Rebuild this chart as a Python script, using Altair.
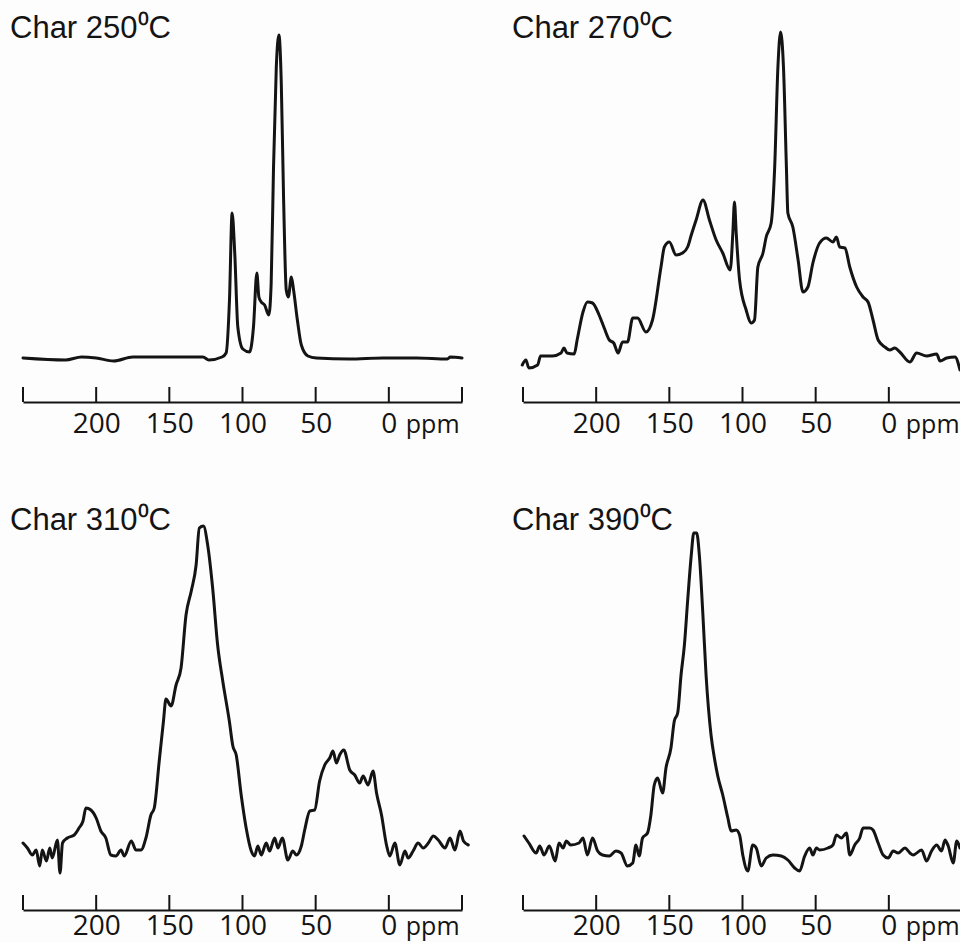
import altair as alt
import pandas as pd

# ---------------- data (ppm, intensity in arbitrary units) ----------------
c250_ppm = [250, 221, 210, 200, 188, 175, 152, 127, 123, 114, 111.2, 108.9, 107.1, 105.3, 103.2,
            99.8, 95.2, 92.5, 90.2, 88.8, 87.2, 84.9, 82, 80.4, 78.8, 76.9, 75.1, 73.5, 71.9,
            70.1, 68.7, 66.6, 65.1, 62.5, 59.8, 55.3, 49.5, 27, 4, -19, -40, -42, -50]
c250_int = [0, -2, 1, 0, -3, 1, 1, 1, -2, 1, 5, 58, 145, 105, 31,
            9, 6, 31, 85, 61, 56, 53, 43, 75, 191, 291, 323, 275, 158,
            68, 61, 81, 68, 38, 13, 2, 0, -1, 0, 0, -1, 1, 0]

c270_ppm = [250.5, 248, 246, 240, 238, 230, 224, 222, 220, 215, 213, 209, 206, 202.5, 198,
            194.5, 191, 188, 185, 182, 178.6, 175, 171.7, 166, 161.5, 155.7, 153.4, 150, 145.4,
            141, 137.5, 135, 131.7, 127, 122.6, 118, 113.5, 108.4, 106.6, 105.5, 104.3, 102,
            97.5, 94, 91.8, 89.5, 86, 83.8, 80.4, 78, 75.8, 74, 72, 70, 69, 65.6, 62, 58.7,
            55.3, 51.9, 47.3, 42.7, 38.2, 35.8, 33.6, 30, 26.7, 22, 17.6, 14.2, 10.8, 7.3,
            2.7, -0.7, -4.1, -7.5, -14.4, -19, -25.8, -32.7, -35, -39.5, -45.2, -48.6]
c270_int = [-7, -2, -10, -7, 2, 2, 5, 10, 5, 4, 18, 46, 56, 55, 43,
            30, 18, 15, 5, 16, 16, 40, 40, 26, 38, 91, 111, 116, 103,
            105, 111, 123, 138, 158, 138, 118, 105, 88, 125, 156, 125, 78,
            48, 35, 38, 91, 105, 121, 135, 191, 291, 326, 291, 191, 145, 131, 98, 66,
            71, 95, 115, 120, 116, 121, 111, 110, 91, 71, 61, 56, 38, 18,
            11, 8, 10, 6, -4, 5, 2, 4, -3, 0, 1, -12]

c310_ppm = [250, 247, 243.6, 241, 238.6, 236.8, 234, 231.7, 230, 226.5, 224.7, 223, 219.7, 215,
            211.7, 209, 207, 203.6, 200, 196.8, 193.4, 190, 186.5, 183, 180.8, 176, 172.8, 169.4,
            166, 162.6, 160.3, 156.9, 154, 152.3, 148.8, 145.4, 142, 138.6, 135, 131.7, 129.5,
            126.7, 123.8, 120.4, 117, 113.5, 109, 106.6, 104.3, 100.9, 97.5, 94, 91.8, 89.5,
            87.2, 83.8, 81.5, 78, 75.8, 72.8, 69, 65.6, 63.2, 59.8, 57.5, 54, 50.7, 47.3, 43.8,
            40.4, 38.2, 35.8, 33.6, 30.8, 26.7, 23.3, 19.9, 17.6, 14.2, 10.8, 8.4, 5, 1.6, -0.7,
            -4.1, -7.5, -11, -13.2, -16.6, -20, -23.5, -27, -30.4, -33.8, -38.4, -41.8, -45.2,
            -48.6, -51, -54.3]
c310_int = [8, 3, -4, 1, -15, 1, -10, 3, -7, 11, -22, 8, 13, 16,
            23, 30, 43, 41, 33, 20, 13, -4, -5, 1, -5, 10, 1, 1,
            13, 36, 43, 90, 130, 152, 145, 166, 183, 236, 260, 286, 323,
            325, 306, 263, 206, 170, 130, 105, 96, 56, 23, 0, -5, 5,
            -4, 8, 0, 13, 3, 13, -9, 0, -4, 5, 21, 40, 41, 70, 86,
            93, 100, 88, 96, 101, 81, 76, 68, 75, 66, 80, 58, 36, 6, -5,
            8, -14, 0, -7, 0, 8, 3, 8, 15, 11, 3, 13, 1,
            20, 10, 6]

c390_ppm = [249.3, 246, 241, 238.6, 235.6, 232, 228, 225.4, 222.6, 220.4, 217.4, 211.7, 209, 206,
            202.5, 199, 195.7, 191, 186.5, 183, 178.6, 175, 172.8, 170.6, 168.3, 164.9, 162.6,
            160.3, 158, 154.6, 152.3, 148.9, 146.6, 144.3, 142, 139.7, 137.5, 135, 133.3, 131.3,
            129.5, 127.2, 124.9, 121.5, 119.2, 116.9, 113.5, 110, 107.8, 104.3, 102, 99.8, 96.4,
            93, 90.6, 87.2, 83.8, 79.2, 73.5, 69, 64.4, 61, 57.5, 54.1, 51.9, 49.5, 47.3, 41.6,
            38.2, 35.8, 32.4, 29, 26.7, 23.3, 19.9, 17.6, 13, 10.8, 7.3, 3.9, 0.5, -3, -6.4, -11,
            -14.4, -16.6, -22.4, -25.8, -29.2, -32.7, -36, -38.4, -40.6, -44, -46.4, -48.6]
c390_int = [15, 8, -2, 5, -4, 5, -10, 8, 3, 10, 6, 8, 13, -4,
            13, 0, -4, -5, 0, -2, -15, -12, 6, -5, 13, 18, 36,
            66, 73, 58, 83, 103, 130, 138, 176, 206, 250, 296, 318, 318,
            296, 240, 176, 116, 93, 75, 56, 33, 20, 21, 16, -4, -20,
            6, 3, -15, -7, -4, -5, -9, -17, -20, -5, 3, -4, 3, 1, 3,
            6, 16, 13, 18, -4, 6, 13, 23, 23, 21, 8, -4, -7, 0, -2, 3,
            -2, -4, 1, -10, 0, 6, 0, 11, 5, -12, 10, 3]

titles = ["Char 250\u2070C", "Char 270\u2070C", "Char 310\u2070C", "Char 390\u2070C"]
tick_values = [250, 200, 150, 100, 50, 0, -50]
label_values = [200, 150, 100, 50, 0]
unit_text = "ppm"

# ---------------- layout / style ----------------
W, H = 960, 943
INK = "#141414"


def panel(ppm, inten, title, x_range, y_range, y_domain, axis_y, title_x, title_y,
          label_pad, unit_dy):
    df = pd.DataFrame({"i": list(range(len(ppm))), "ppm": ppm, "intensity": inten})
    xs = alt.Scale(domain=[250, -50], range=x_range, nice=False, zero=False)
    ys = alt.Scale(domain=y_domain, range=y_range, nice=False, zero=False)

    line = alt.Chart(df).mark_line(
        color=INK, strokeWidth=3, interpolate="monotone",
        strokeJoin="round", strokeCap="round"
    ).encode(
        x=alt.X("ppm:Q", scale=xs, axis=alt.Axis(
            orient="bottom", offset=axis_y - H, values=label_values,
            ticks=False, tickSize=0, domain=True, domainColor=INK, domainWidth=2,
            labelFont="Open Sans", labelFontSize=28, labelColor=INK,
            labelPadding=label_pad, labelBaseline="alphabetic", labelFlush=False,
            labelOverlap=False, grid=False, title=None)),
        y=alt.Y("intensity:Q", scale=ys, axis=None),
        order="i:Q",
    )

    tick_df = pd.DataFrame({"ppm": tick_values})
    ticks = alt.Chart(tick_df).mark_rule(color=INK, strokeWidth=2).encode(
        x=alt.X("ppm:Q", scale=xs),
        y=alt.value(axis_y - 15),
        y2=alt.value(axis_y),
    )

    unit_df = pd.DataFrame({"ppm": [-11.6], "unit": [unit_text]})
    unit = alt.Chart(unit_df).mark_text(
        align="left", baseline="alphabetic", font="Open Sans", fontSize=25, color=INK
    ).encode(
        x=alt.X("ppm:Q", scale=xs),
        y=alt.value(axis_y + unit_dy),
        text="unit:N",
    )

    title_df = pd.DataFrame({"label": [title]})
    ttl = alt.Chart(title_df).mark_text(
        align="left", baseline="alphabetic", font="Liberation Sans", fontSize=31, color=INK
    ).encode(
        x=alt.value(title_x),
        y=alt.value(title_y),
        text="label:N",
    )
    return alt.layer(line, ticks, unit, ttl)


p1 = panel(c250_ppm, c250_int, titles[0], [23, 462], [402, 0], [-44, 358], 402, 10, 38, 30, 31)
p2 = panel(c270_ppm, c270_int, titles[1], [523, 962], [402, 0], [-44, 358], 402, 512, 38, 30, 31)
p3 = panel(c310_ppm, c310_int, titles[2], [23, 462], [910, 508], [-59, 343], 910, 10, 530, 24, 25)
p4 = panel(c390_ppm, c390_int, titles[3], [523, 962], [910, 508], [-59, 343], 910, 512, 530, 24, 25)

chart = alt.layer(p1, p2, p3, p4).resolve_scale(
    x="independent", y="independent"
).properties(
    width=W, height=H,
    autosize=alt.AutoSizeParams(type="none"),
    padding=0,
    background="#fdfdfd",
).configure_view(stroke=None)

chart.save("out.html", embed_options={"renderer": "svg", "actions": False})
